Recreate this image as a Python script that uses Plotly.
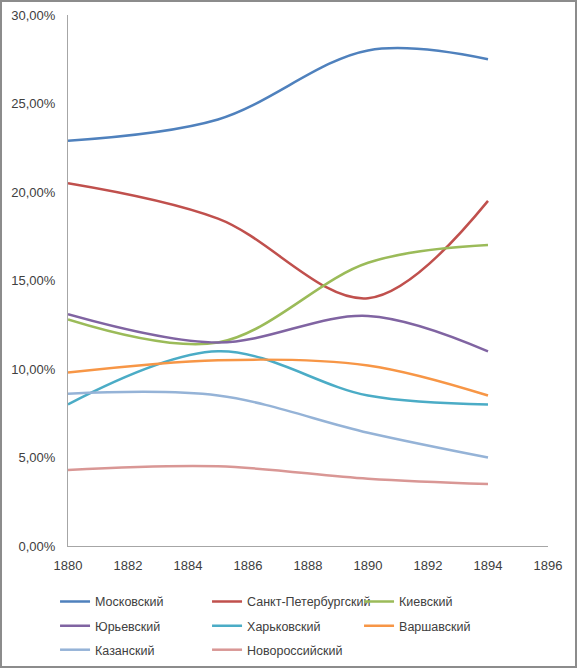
import plotly.graph_objects as go

years = [1880, 1885, 1890, 1894]

names = ["Московский", "Санкт-Петербургский", "Киевский", "Юрьевский",
         "Харьковский", "Варшавский", "Казанский", "Новороссийский"]

moscow = [22.9, 24.1, 28.0, 27.5]
spb = [20.5, 18.5, 14.0, 19.5]
kiev = [12.8, 11.5, 16.0, 17.0]
yuriev = [13.1, 11.5, 13.0, 11.0]
kharkov = [8.0, 11.0, 8.5, 8.0]
warsaw = [9.8, 10.5, 10.2, 8.5]
kazan = [8.6, 8.5, 6.4, 5.0]
novoross = [4.3, 4.5, 3.8, 3.5]

colors = ["#4F81BD", "#C0504D", "#9BBB59", "#8064A2",
          "#4BACC6", "#F79646", "#95B3D7", "#D99795"]

series = [moscow, spb, kiev, yuriev, kharkov, warsaw, kazan, novoross]
# one legend per row, three entries each
legend_ids = ["legend", "legend", "legend", "legend2", "legend2", "legend2",
              "legend3", "legend3"]

fig = go.Figure()
for name, vals, c, lg in zip(names, series, colors, legend_ids):
    fig.add_trace(go.Scatter(
        x=years, y=[v / 100 for v in vals], name=name, mode="lines", legend=lg,
        line=dict(color=c, width=2.5, shape="spline", smoothing=1.0)))

fnt = dict(family="Liberation Sans, Arial, sans-serif", size=13, color="#404040")
lfnt = dict(family="Liberation Sans, Arial, sans-serif", size=12.5, color="#404040")


def row_legend(y):
    return dict(orientation="h", x=-0.027, y=y, xanchor="left", yanchor="middle",
                entrywidth=107, entrywidthmode="pixels", itemwidth=30,
                font=lfnt, bgcolor="rgba(0,0,0,0)")


fig.update_layout(
    width=577, height=668,
    margin=dict(l=68, r=29, t=15, b=122, autoexpand=False),
    paper_bgcolor="white", plot_bgcolor="white",
    font=fnt,
    showlegend=True,
    legend=row_legend(-0.105),
    legend2=row_legend(-0.151),
    legend3=row_legend(-0.196),
    xaxis=dict(range=[1880, 1896], tickvals=list(range(1880, 1897, 2)),
               showgrid=False, zeroline=False, showline=True, linecolor="#A6A6A6",
               linewidth=1, ticks="", tickfont=fnt, ticklabelstandoff=7),
    yaxis=dict(range=[0, 0.30], tickvals=[0, 0.05, 0.10, 0.15, 0.20, 0.25, 0.30],
               ticktext=["0,00%", "5,00%", "10,00%", "15,00%", "20,00%", "25,00%", "30,00%"],
               showgrid=False, zeroline=False, showline=True, linecolor="#A6A6A6",
               linewidth=1, ticks="", tickfont=fnt, ticklabelstandoff=9),
)

fig.add_shape(type="rect", xref="paper", yref="paper",
              x0=-67 / 480, x1=1 + 28 / 480,
              y0=-121 / 531, y1=1 + 14 / 531,
              line=dict(color="#8C8C8C", width=2))

fig.write_html("out.html", config={"displayModeBar": False},
               post_script="document.body.style.margin='0';")
